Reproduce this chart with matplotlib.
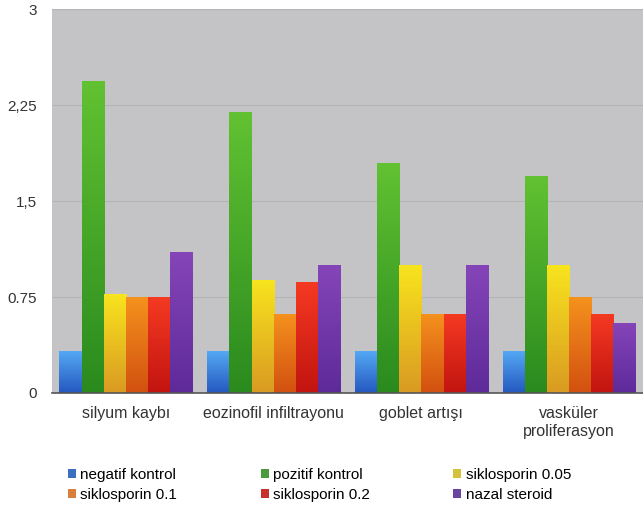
import matplotlib.pyplot as plt
import numpy as np
from matplotlib.colors import LinearSegmentedColormap
from matplotlib.patches import Patch

plt.rcParams['font.family'] = ['Liberation Sans', 'DejaVu Sans']

categories = ["silyum kaybı", "eozinofil infiltrayonu", "goblet artışı", "vasküler\nproliferasyon"]
series = ["negatif kontrol", "pozitif kontrol", "siklosporin 0.05",
          "siklosporin 0.1", "siklosporin 0.2", "nazal steroid"]

negatif_kontrol = [0.33, 0.33, 0.33, 0.33]
pozitif_kontrol = [2.44, 2.20, 1.80, 1.70]
siklosporin_005 = [0.77, 0.88, 1.00, 1.00]
siklosporin_01 = [0.75, 0.62, 0.62, 0.75]
siklosporin_02 = [0.75, 0.87, 0.62, 0.62]
nazal_steroid = [1.10, 1.00, 1.00, 0.55]

y_ticks = [0, 0.75, 1.5, 2.25, 3]
y_labels = ["0", "0.75", "1,5", "2,25", "3"]

# (top, bottom) colours for the vertical gradient on each series
colors = [("#55aaf5", "#2558c0"),
          ("#62c232", "#2a8a1e"),
          ("#f8e41e", "#d99a22"),
          ("#f5921e", "#d25010"),
          ("#f53a22", "#c21410"),
          ("#8545b8", "#5e2a9a")]
legend_colors = ["#3b6fc0", "#4c9a3e", "#d4c23c", "#d8803c", "#c83030", "#6a44a0"]

values = [negatif_kontrol, pozitif_kontrol, siklosporin_005,
          siklosporin_01, siklosporin_02, nazal_steroid]

fig = plt.figure(figsize=(6.43, 5.13), dpi=100)
ax = fig.add_axes([0.081, 0.234, 0.919, 0.748])
ax.set_facecolor("#c4c4c6")

x = np.arange(len(categories))
n = len(series)
width = 0.9 / n
grad = np.linspace(1, 0, 256).reshape(-1, 1)

for i, (name, vals, (top, bot)) in enumerate(zip(series, values, colors)):
    offs = x - 0.45 + width * (i + 0.5)
    bars = ax.bar(offs, vals, width, color=top, zorder=2, linewidth=0)
    cmap = LinearSegmentedColormap.from_list(name, [bot, top])
    for b in bars:
        bx, by = b.get_x(), b.get_y()
        im = ax.imshow(grad, cmap=cmap, aspect="auto", zorder=3,
                       extent=[bx, bx + b.get_width(), by, by + b.get_height()],
                       origin="upper")
        im.set_clip_path(b)

ax.set_xlim(-0.5, len(categories) - 0.5)
ax.set_ylim(0, 3)
ax.set_yticks(y_ticks)
ax.set_yticklabels(y_labels, fontsize=11, color="#333333")
ax.set_xticks(x)
ax.set_xticklabels(categories, fontsize=11.5, color="#333333")
ax.tick_params(length=0)
ax.tick_params(axis="x", pad=9.5)
ax.tick_params(axis="y", pad=11)
ax.grid(axis="y", color="#b4b4b6", linewidth=0.8, zorder=1)
for s in ["top", "right", "left"]:
    ax.spines[s].set_visible(False)
ax.spines["bottom"].set_color("#555555")
ax.spines["bottom"].set_linewidth(1.2)
ax.spines["bottom"].set_zorder(4)

# three legend columns placed side by side under the plot
handles = [Patch(facecolor=c, label=s) for s, c in zip(series, legend_colors)]
col_x = [0.106, 0.406, 0.705]
for c in range(3):
    pair = [handles[c], handles[c + 3]]
    fig.legend(pair, [h.get_label() for h in pair],
               loc="upper left", bbox_to_anchor=(col_x[c], 0.088),
               ncol=1, frameon=False, fontsize=11,
               handlelength=0.5, handleheight=0.5, handletextpad=0.3,
               labelspacing=0.38, borderaxespad=0, borderpad=0)

fig.savefig("out.png", dpi=100)
